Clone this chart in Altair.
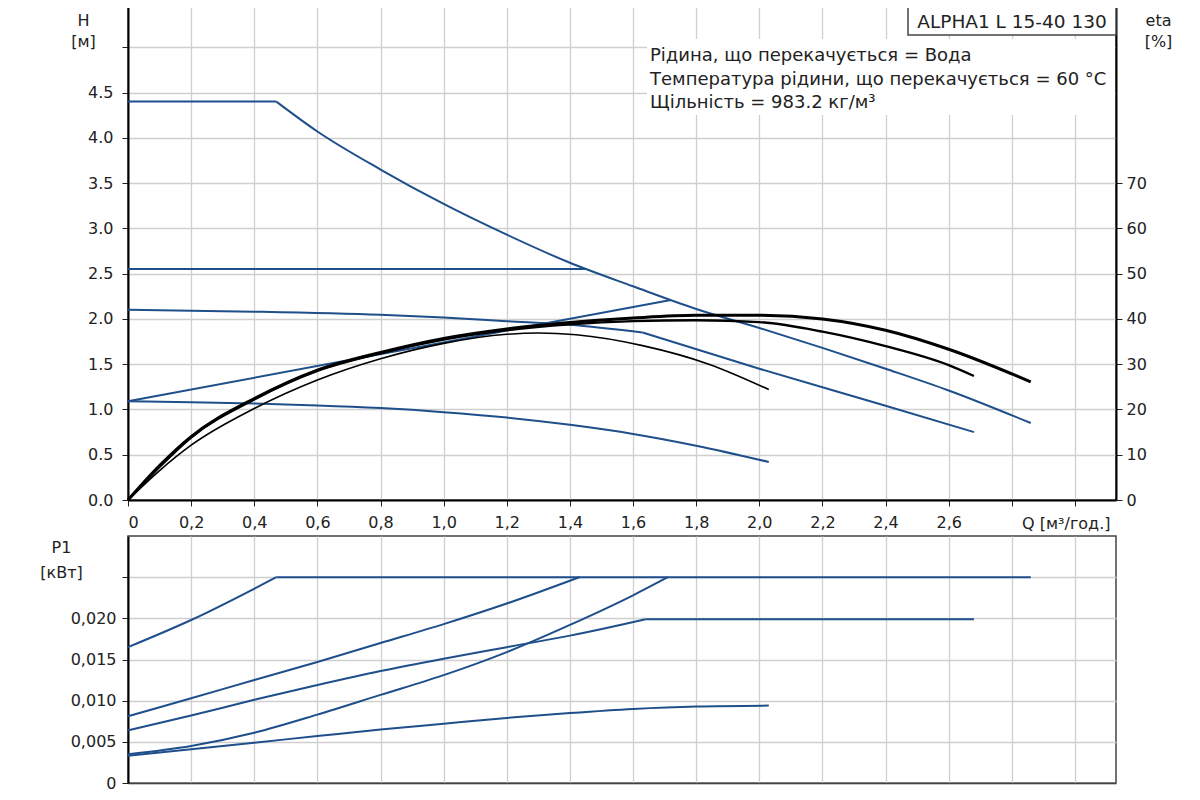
import altair as alt
import pandas as pd

# ---------------- data ----------------
# Head curves: H [m] against Q [m3/h] (split where the curve has a sharp corner)
Q_H_MAX_FLAT = [0, 0.47]
H_MAX_FLAT = [4.4, 4.4]
Q_H_MAX = [0.47, 0.6, 0.8, 1.0, 1.2, 1.4, 1.6, 1.8, 2.0, 2.2, 2.4, 2.6, 2.86]
H_MAX = [4.4, 4.07, 3.65, 3.27, 2.93, 2.62, 2.36, 2.11, 1.90, 1.68, 1.45, 1.21, 0.85]
Q_H_CP = [0, 1.45]
H_CP = [2.55, 2.55]
Q_H_PPH_1 = [0, 0.4, 0.8, 1.0, 1.2, 1.4, 1.63]
H_PPH_1 = [2.10, 2.08, 2.045, 2.015, 1.975, 1.935, 1.85]
Q_H_PPH_2 = [1.63, 2.0, 2.4, 2.68]
H_PPH_2 = [1.85, 1.45, 1.04, 0.75]
Q_H_PPL = [0, 1.72]
H_PPL = [1.09, 2.21]
Q_H_LOW = [0, 0.2, 0.4, 0.6, 0.8, 1.0, 1.2, 1.4, 1.6, 1.8, 2.03]
H_LOW = [1.09, 1.08, 1.065, 1.045, 1.015, 0.97, 0.91, 0.83, 0.73, 0.60, 0.42]

# Efficiency curves: eta [%]
Q_ETA_A = [0, 0.1, 0.2, 0.4, 0.6, 0.8, 1.0, 1.2, 1.4, 1.6, 1.8, 2.0, 2.2, 2.4, 2.6, 2.86]
ETA_A = [0, 7.6, 14.0, 22.4, 28.7, 32.6, 35.7, 37.8, 39.2, 40.2, 40.8, 40.8, 40.0, 37.5, 33.3, 26.1]
Q_ETA_B = [0, 0.1, 0.2, 0.4, 0.6, 0.8, 1.0, 1.2, 1.4, 1.6, 1.8, 2.0, 2.2, 2.4, 2.6, 2.68]
ETA_B = [0, 7.3, 13.8, 22.2, 28.5, 32.4, 35.4, 37.5, 38.8, 39.5, 39.7, 39.3, 37.2, 34.0, 29.8, 27.4]
Q_ETA_C = [0, 0.1, 0.2, 0.4, 0.6, 0.8, 1.0, 1.2, 1.3, 1.42, 1.63, 1.84, 2.03]
ETA_C = [0, 6.5, 12.1, 20.2, 26.5, 31.2, 34.6, 36.6, 36.9, 36.5, 34.1, 30.0, 24.4]

# Power curves: P1 [kW]
Q_P_MAX_1 = [0, 0.2, 0.47]
P_MAX_1 = [0.0165, 0.0198, 0.025]
Q_P_MAX_2 = [0.47, 2.86]
P_MAX_2 = [0.025, 0.025]
Q_P_CP = [0, 0.2, 0.4, 0.6, 0.8, 1.0, 1.2, 1.43]
P_CP = [0.0081, 0.0103, 0.0125, 0.0147, 0.0170, 0.0193, 0.0218, 0.025]
Q_P_PPH_1 = [0, 0.2, 0.4, 0.6, 0.8, 1.0, 1.2, 1.4, 1.64]
P_PPH_1 = [0.0064, 0.0082, 0.0101, 0.0119, 0.0136, 0.0151, 0.0165, 0.0179, 0.0199]
Q_P_PPH_2 = [1.64, 2.68]
P_PPH_2 = [0.0199, 0.0199]
Q_P_PPL = [0, 0.2, 0.4, 0.6, 0.8, 1.0, 1.2, 1.4, 1.6, 1.71]
P_PPL = [0.0035, 0.0045, 0.0061, 0.0083, 0.0107, 0.0131, 0.0159, 0.0192, 0.0228, 0.025]
Q_P_LOW = [0, 0.2, 0.4, 0.6, 0.8, 1.0, 1.2, 1.4, 1.6, 1.8, 2.03]
P_LOW = [0.0033, 0.0041, 0.0049, 0.0057, 0.0065, 0.0072, 0.0079, 0.0085, 0.0090, 0.0093, 0.0094]

# Axis ticks and texts
Q_TICKS = [0, 0.2, 0.4, 0.6, 0.8, 1.0, 1.2, 1.4, 1.6, 1.8, 2.0, 2.2, 2.4, 2.6, 2.8, 3.0]
H_TICKS = [0, 0.5, 1.0, 1.5, 2.0, 2.5, 3.0, 3.5, 4.0, 4.5, 5.0]
ETA_TICKS = [0, 10, 20, 30, 40, 50, 60, 70]
P_TICKS = [0, 0.005, 0.010, 0.015, 0.020, 0.025]
MODEL = ["ALPHA1 L 15-40 130"]
NOTES = ["Рідина, що перекачується = Вода",
         "Температура рідини, що перекачується = 60 °C",
         "Щільність = 983.2 кг/м³"]

# ---------------- build tables ----------------
def table(pairs, value_name):
    rows = []
    for name, qs, vs in pairs:
        for i, (q, v) in enumerate(zip(qs, vs)):
            rows.append({"curve": name, "i": i, "Q": q, value_name: v})
    return pd.DataFrame(rows)

h_df = table([("max0", Q_H_MAX_FLAT, H_MAX_FLAT), ("max", Q_H_MAX, H_MAX),
              ("cp", Q_H_CP, H_CP), ("pph1", Q_H_PPH_1, H_PPH_1), ("pph2", Q_H_PPH_2, H_PPH_2),
              ("ppl", Q_H_PPL, H_PPL), ("low", Q_H_LOW, H_LOW)], "H")
eta_df = table([("A", Q_ETA_A, ETA_A), ("B", Q_ETA_B, ETA_B), ("C", Q_ETA_C, ETA_C)], "eta")
p_df = table([("max1", Q_P_MAX_1, P_MAX_1), ("max2", Q_P_MAX_2, P_MAX_2), ("cp", Q_P_CP, P_CP),
              ("pph1", Q_P_PPH_1, P_PPH_1), ("pph2", Q_P_PPH_2, P_PPH_2),
              ("ppl", Q_P_PPL, P_PPL), ("low", Q_P_LOW, P_LOW)], "P")
one = pd.DataFrame({"k": [0]})

BLUE = "#1f4f8b"
FONT = "DejaVu Sans"
TXT = "#222222"
GRID = "#cfcfcf"
W = 988
H_TOP = 498
H_BOT = 247
X_DOMAIN = [0, 3.13]

x_top = alt.X("Q:Q", scale=alt.Scale(domain=X_DOMAIN, nice=False, zero=False),
              axis=alt.Axis(values=Q_TICKS, grid=True, gridColor=GRID, gridWidth=1.3,
                            labelExpr="datum.value == 0 ? '0' : (datum.value > 2.65 ? '' : replace(format(datum.value, '.1f'), '.', ','))",
                            labelFont=FONT, labelFontSize=16, labelColor=TXT, labelPadding=8,
                            tickSize=6, tickColor="#222", domainColor="black", domainWidth=2,
                            title="Q [м³/год.]", titleFont=FONT, titleFontSize=16,
                            titleFontWeight="normal", titleColor=TXT, titleAlign="right",
                            titleBaseline="alphabetic", titleAnchor="start",
                            titleX=982, titleY=28))

blue_top = alt.Chart(h_df).mark_line(color=BLUE, strokeWidth=2, interpolate="monotone").encode(
    x=x_top,
    y=alt.Y("H:Q", scale=alt.Scale(domain=[0, 5.5], nice=False),
            axis=alt.Axis(orient="left", values=H_TICKS, grid=True, gridColor=GRID, gridWidth=1.3,
                          labelExpr="datum.value > 4.75 ? '' : format(datum.value, '.1f')",
                          labelFont=FONT, labelFontSize=16, labelColor=TXT, labelPadding=9,
                          tickSize=6, tickColor="#222", domainColor="black", domainWidth=2,
                          title=["H", "[м]"], titleAngle=0, titleAlign="center",
                          titleBaseline="alphabetic", titleX=-45, titleY=23, titleLineHeight=21,
                          titleFont=FONT, titleFontSize=16, titleFontWeight="normal",
                          titleColor=TXT)),
    detail="curve:N",
    order="i:Q",
)

black_top = alt.Chart(eta_df).mark_line(color="black", interpolate="monotone").encode(
    x=x_top,
    y=alt.Y("eta:Q", scale=alt.Scale(domain=[0, 110], nice=False),
            axis=alt.Axis(orient="right", values=ETA_TICKS, grid=False, format="d",
                          labelFont=FONT, labelFontSize=16, labelColor=TXT, labelPadding=4,
                          tickSize=6, tickColor="#222", domainColor="black", domainWidth=2,
                          title=["eta", "[%]"], titleAngle=0, titleAlign="center",
                          titleBaseline="alphabetic", titleX=42, titleY=23, titleLineHeight=21,
                          titleFont=FONT, titleFontSize=16, titleFontWeight="normal",
                          titleColor=TXT)),
    detail="curve:N",
    order="i:Q",
    strokeWidth=alt.StrokeWidth("curve:N", scale=alt.Scale(domain=["A", "B", "C"], range=[3, 1.6, 1.6]),
                                legend=None),
)

note_bg = alt.Chart(one).mark_rect(fill="white").encode(
    x=alt.value(519), x2=alt.value(987), y=alt.value(37), y2=alt.value(113))
notes = alt.Chart(one).mark_text(
    text=NOTES, font=FONT, fontSize=18, color=TXT, align="left", baseline="alphabetic",
    lineHeight=23.5
).encode(x=alt.value(522), y=alt.value(59))

model_box = alt.Chart(one).mark_rect(fill="white", stroke="#444", strokeWidth=1.5).encode(
    x=alt.value(780), x2=alt.value(988), y=alt.value(0), y2=alt.value(33))
model_txt = alt.Chart(pd.DataFrame({"t": MODEL})).mark_text(
    font=FONT, fontSize=18.5, color=TXT, align="center", baseline="alphabetic"
).encode(text="t:N", x=alt.value(884), y=alt.value(26))

bounds_rule = alt.Chart(one).mark_rule(opacity=0, strokeWidth=0.5).encode(
    x=alt.value(-119), x2=alt.value(0), y=alt.value(200))

top = alt.layer(blue_top, black_top, note_bg, notes, model_box, model_txt,
                bounds_rule).resolve_scale(y="independent").properties(width=W, height=H_TOP)

x_bot = alt.X("Q:Q", scale=alt.Scale(domain=X_DOMAIN, nice=False, zero=False),
              axis=alt.Axis(values=Q_TICKS, grid=True, gridColor=GRID, gridWidth=1.3,
                            labels=False, ticks=False, title=None,
                            domainColor="#444", domainWidth=1.5))

bottom = alt.Chart(p_df).mark_line(color=BLUE, strokeWidth=2, interpolate="monotone").encode(
    x=x_bot,
    y=alt.Y("P:Q", scale=alt.Scale(domain=[0, 0.030], nice=False),
            axis=alt.Axis(orient="left", values=P_TICKS, grid=True, gridColor=GRID, gridWidth=1.3,
                          labelExpr="datum.value == 0 ? '0' : (datum.value > 0.0225 ? '' : replace(format(datum.value, '.3f'), '.', ','))",
                          labelFont=FONT, labelFontSize=16, labelColor=TXT, labelPadding=6,
                          tickSize=6, tickColor="#222", domainColor="black", domainWidth=2,
                          title=["P1", "[кВт]"], titleAngle=0, titleAlign="center",
                          titleBaseline="alphabetic", titleX=-67, titleY=16, titleLineHeight=25,
                          titleFont=FONT, titleFontSize=16, titleFontWeight="normal",
                          titleColor=TXT)),
    detail="curve:N",
    order="i:Q",
).properties(width=W, height=H_BOT)

chart = alt.vconcat(top, bottom, spacing=36, bounds="flush").properties(
    padding={"left": 0, "top": -8, "right": 6, "bottom": 8},
    background="white",
).configure_view(stroke="#444", strokeWidth=1.5)

chart.save("out.html", embed_options={"renderer": "svg", "actions": False})
